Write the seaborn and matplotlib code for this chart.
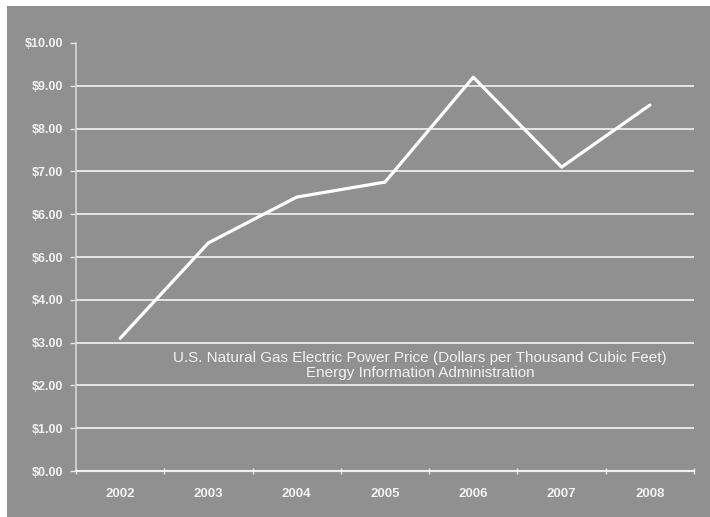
import matplotlib
matplotlib.use("Agg")
import matplotlib.pyplot as plt
from matplotlib.patches import Rectangle
import seaborn as sns
import pandas as pd

years = ["2002", "2003", "2004", "2005", "2006", "2007", "2008"]
price = [3.10, 5.33, 6.40, 6.75, 9.20, 7.10, 8.55]
y_ticks = [0, 1, 2, 3, 4, 5, 6, 7, 8, 9, 10]
y_tick_labels = ["$0.00", "$1.00", "$2.00", "$3.00", "$4.00", "$6.00",
                 "$6.00", "$7.00", "$8.00", "$9.00", "$10.00"]
caption = ("U.S. Natural Gas Electric Power Price (Dollars per Thousand Cubic Feet)\n"
           "Energy Information Administration")

bg = "#909090"
fg = "#f2f2f2"

sns.set_theme(style="dark")
plt.rcParams["font.family"] = ["Liberation Sans", "DejaVu Sans"]

df = pd.DataFrame({"year": years, "price": price})

fig = plt.figure(figsize=(7.10, 5.17), dpi=100, facecolor="white")
# gray panel behind the chart, leaving a thin white margin top/left
fig.add_artist(Rectangle((7 / 710, 0), 1, 1 - 6 / 517, transform=fig.transFigure,
                         facecolor=bg, edgecolor="none", zorder=-10))

ax = fig.add_axes([76 / 710, 1 - 471 / 517, (694 - 76) / 710, (471 - 43) / 517])
ax.set_zorder(1)
ax.set_facecolor(bg)

sns.lineplot(data=df, x="year", y="price", ax=ax, color="white",
             linewidth=2.3, sort=False, zorder=3)

ax.set_xlim(-0.5, len(years) - 0.5)
ax.set_ylim(0, 10)

ax.set_yticks(y_ticks)
ax.set_yticklabels(y_tick_labels, fontsize=9, fontweight="bold", color=fg)
ax.set_xticks(range(len(years)))
ax.set_xticklabels(years, fontsize=9.5, fontweight="bold", color=fg)
ax.set_xticks([i - 0.5 for i in range(len(years) + 1)], minor=True)

ax.tick_params(axis="y", length=4, width=1, color="#e6e6e6", direction="out",
               pad=5, left=True)
ax.tick_params(axis="x", which="major", length=0, pad=12)
ax.tick_params(axis="x", which="minor", length=4, width=1, color="#e6e6e6",
               direction="inout", bottom=True)

ax.grid(axis="y", color="#ececec", linewidth=1.3)
ax.grid(axis="x", visible=False)
ax.yaxis.get_gridlines()[-1].set_visible(False)
ax.set_axisbelow(True)

ax.set_xlabel("")
ax.set_ylabel("")
for side in ("top", "right"):
    ax.spines[side].set_visible(False)
ax.spines["left"].set_color("#d8d8d8")
ax.spines["left"].set_linewidth(1.2)
ax.spines["bottom"].set_color("#f0f0f0")
ax.spines["bottom"].set_linewidth(1.5)

ax.text(0.557, 0.247, caption, transform=ax.transAxes, ha="center", va="center",
        fontsize=11, color=fg, linespacing=1.05)

fig.savefig("out.png", dpi=100, facecolor=fig.get_facecolor())
